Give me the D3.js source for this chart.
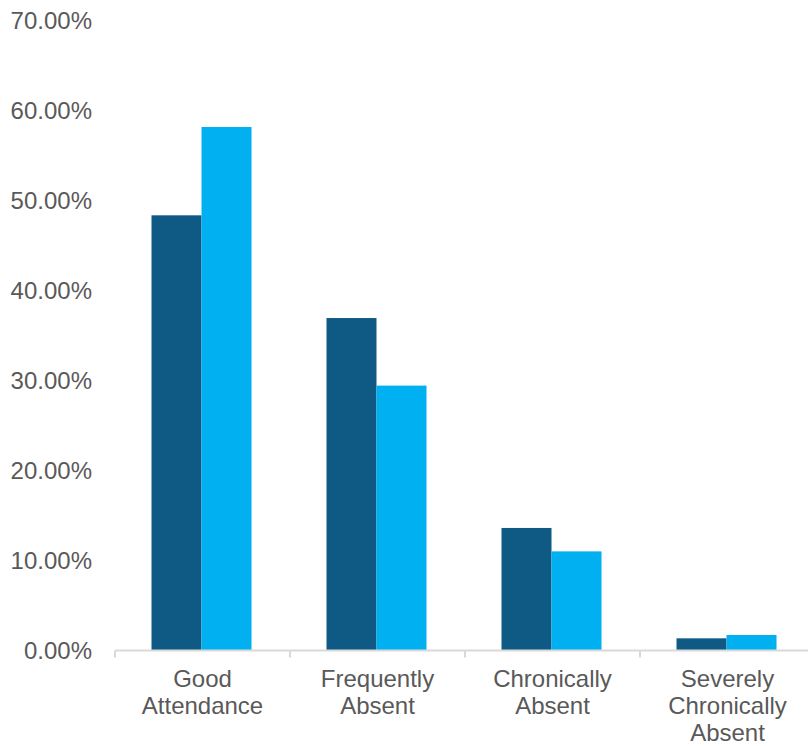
<!DOCTYPE html>
<html>
<head>
<meta charset="utf-8">
<script src="https://cdn.jsdelivr.net/npm/d3@7"></script>
<style>
  html, body { margin: 0; padding: 0; background: #ffffff; }
  svg { display: block; }
  text { font-family: "Liberation Sans", Arial, sans-serif; fill: #595959; }
</style>
</head>
<body>
<svg id="chart" width="808" height="746"></svg>
<script>
const categories = ["Good Attendance", "Frequently Absent", "Chronically Absent", "Severely Chronically Absent"];
const categoryLines = [["Good", "Attendance"], ["Frequently", "Absent"], ["Chronically", "Absent"], ["Severely", "Chronically", "Absent"]];
const seriesNames = ["Series A", "Series B"];
const seriesA = [0.483, 0.369, 0.136, 0.0135];
const seriesB = [0.581, 0.294, 0.110, 0.0172];
const yTicks = [0, 0.1, 0.2, 0.3, 0.4, 0.5, 0.6, 0.7];
const colors = ["#0E5A85", "#00B0F0"];

const svg = d3.select("#chart");
const x0 = 115, x1 = 815, yBase = 650.5, yTop = 19.8;

const x = d3.scaleBand().domain(categories).range([x0, x1]).paddingInner(0).paddingOuter(0);
const y = d3.scaleLinear().domain([0, 0.7]).range([yBase, yTop]);
const inner = d3.scaleBand().domain(seriesNames).range([0, 100]).padding(0);

// Y axis labels
const yAxis = d3.axisLeft(y).tickValues(yTicks).tickFormat(d3.format(".2%")).tickSize(0).tickPadding(0);
const yg = svg.append("g").attr("transform", "translate(92,0)").call(yAxis);
yg.select(".domain").remove();
yg.selectAll("text").style("font-size", "24px").attr("fill", "#595959")
  .attr("font-family", "Liberation Sans, Arial, sans-serif").attr("dy", "0.35em");

// Bars
const data = categories.map((c, i) => ({ c, vals: [seriesA[i], seriesB[i]] }));
const groups = svg.append("g").selectAll("g").data(data).join("g")
  .attr("transform", d => `translate(${x(d.c) + x.bandwidth() / 2 - 51},0)`);
groups.selectAll("rect").data(d => d.vals.map((v, j) => ({ v, s: seriesNames[j], j })))
  .join("rect")
  .attr("x", d => inner(d.s))
  .attr("width", inner.bandwidth())
  .attr("y", d => y(d.v))
  .attr("height", d => yBase - y(d.v))
  .attr("fill", d => colors[d.j]);

// X axis line and ticks
const xAxis = d3.axisBottom(x).tickValues([]).tickSizeOuter(0);
const xg = svg.append("g").attr("transform", `translate(0,${yBase})`).call(xAxis);
xg.select(".domain").attr("stroke", "#d9d9d9").attr("stroke-width", 2)
  .attr("d", `M${x0},0H808`);
const boundaries = categories.map(c => x(c));
xg.selectAll("line.tk").data(boundaries).join("line").attr("class", "tk")
  .attr("x1", d => d).attr("x2", d => d).attr("y1", 0).attr("y2", 7)
  .attr("stroke", "#d9d9d9").attr("stroke-width", 2);

// Category labels
const labels = svg.append("g").selectAll("text").data(categories).join("text")
  .attr("text-anchor", "middle")
  .attr("x", d => x(d) + x.bandwidth() / 2)
  .attr("y", 687)
  .style("font-size", "24px");
labels.each(function(d, i) {
  const t = d3.select(this);
  categoryLines[i].forEach((line, k) => {
    t.append("tspan").attr("x", x(d) + x.bandwidth() / 2).attr("dy", k === 0 ? 0 : 27).text(line);
  });
});
</script>
</body>
</html>
